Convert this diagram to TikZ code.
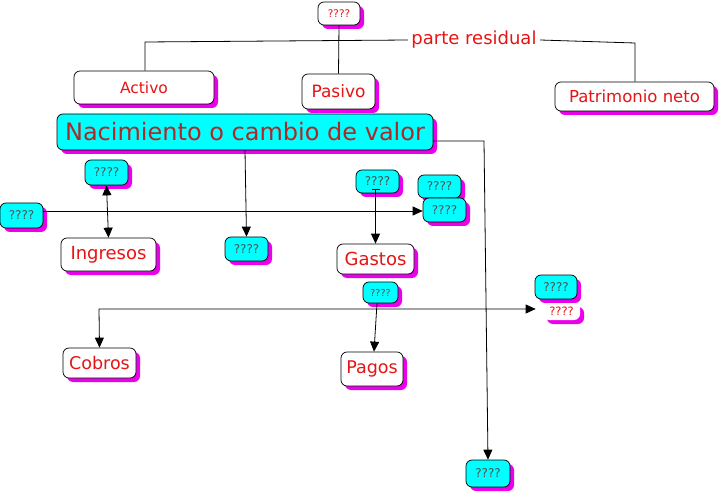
\documentclass[tikz,border=0pt]{standalone}
\usepackage{fontspec}
\setmainfont{DejaVu Sans}
\usetikzlibrary{shadows,arrows.meta}
\definecolor{tred}{RGB}{230,20,20}
\definecolor{dred}{RGB}{175,40,40}
\definecolor{qgray}{RGB}{80,80,80}
\definecolor{cy}{RGB}{0,255,255}
\definecolor{mag}{RGB}{235,0,235}
\tikzset{
  base/.style={draw=black, line width=0.7pt, rounded corners=6pt, inner sep=0pt,
    drop shadow={shadow xshift=4pt, shadow yshift=-4pt, fill=mag, opacity=1}},
  wbox/.style={base, fill=white, text=tred},
  cbox/.style={base, fill=cy, text=qgray, font=\fontsize{12}{14}\selectfont},
  conn/.style={draw=black, line width=0.8pt},
  tip/.style={-{Triangle[length=10pt,width=9pt]}}
}
\begin{document}
\begin{tikzpicture}[x=1pt,y=-1pt]
\useasboundingbox (0,0) rectangle (721,492);
% nodes
\node[wbox, minimum width=42, minimum height=23, font=\fontsize{10.5}{12}\selectfont] (q0) at (339,13.5) {????};
\node[text=tred, font=\fontsize{18}{21}\selectfont] (res) at (474,40) {parte residual};
\node[wbox, minimum width=140, minimum height=33, font=\fontsize{15.5}{18}\selectfont] (act) at (144,87.5) {Activo};
\node[wbox, minimum width=73, minimum height=35, font=\fontsize{17}{20}\selectfont] (pas) at (338.5,91.5) {Pasivo};
\node[wbox, minimum width=159, minimum height=29, font=\fontsize{16.5}{19}\selectfont] (pat) at (634.5,96.5) {Patrimonio neto};
\node[base, fill=cy, text=dred, minimum width=376, minimum height=36, font=\fontsize{24}{28}\selectfont] (nac) at (245,132) {Nacimiento o cambio de valor};
\node[cbox, minimum width=43, minimum height=25] (qa) at (106.5,172.5) {????};
\node[cbox, minimum width=43, minimum height=25] (ql) at (21.5,215.5) {????};
\node[wbox, minimum width=95, minimum height=33, font=\fontsize{18}{21}\selectfont] (ing) at (108.5,254.5) {Ingresos};
\node[cbox, minimum width=43, minimum height=24] (qm) at (246.5,249) {????};
\node[cbox, minimum width=43, minimum height=23] (qg) at (377.5,181.5) {????};
\node[cbox, minimum width=43, minimum height=23] (qr1) at (439.5,186.5) {????};
\node[cbox, minimum width=43, minimum height=24] (qr2) at (444.5,210) {????};
\node[wbox, minimum width=77, minimum height=30, font=\fontsize{18}{21}\selectfont] (gas) at (375.5,259) {Gastos};
\node[cbox, minimum width=35, minimum height=21, font=\fontsize{9.5}{11}\selectfont] (qs) at (380.5,292.5) {????};
\node[wbox, minimum width=62, minimum height=34, font=\fontsize{17.5}{20}\selectfont] (pag) at (372,369) {Pagos};
\node[wbox, minimum width=73, minimum height=30, font=\fontsize{17.5}{20}\selectfont] (cob) at (99.5,363) {Cobros};
\node[cbox, minimum width=42, minimum height=24] (qc) at (556,287) {????};
\node[wbox, draw=none, minimum width=37, minimum height=17, font=\fontsize{11.5}{13}\selectfont] (qw) at (561.5,311.5) {????};
\node[cbox, minimum width=44, minimum height=27] (qb) at (488,473.5) {????};
% connectors
\coordinate (a1) at (145,42);
\coordinate (p1) at (635,43);
\coordinate (n1) at (433,141);
\coordinate (n2) at (484,141);
\coordinate (c1) at (99,309);
\coordinate (l1) at (43,211);
\draw[conn] (q0.south) -- (pas.north);
\draw[conn] (act.north -| a1) -- (a1) -- (res.west);
\draw[conn] (res.east) -- (p1) -- (pat.north -| p1);
\draw[conn, tip] (n1) -- (n2) -- ([xshift=4pt]n2 |- qb.north);
\draw[conn, tip] (nac.south) -- (qm.north);
\draw[conn, {Triangle[length=10pt,width=9pt]}-{Triangle[length=10pt,width=9pt]}] (qa.south) -- (ing.north);
\draw[conn, tip] (l1) -- (l1 -| qr2.west);
\draw[conn, {Bar[width=8pt,length=1pt]}-{Triangle[length=10pt,width=9pt]}] ([yshift=4pt]qg.south -| gas.north) -- (gas.north);
\draw[conn, tip] ([xshift=-3.5pt]qs.south) -- ([xshift=2pt]pag.north);
\draw[conn, {Triangle[length=10pt,width=9pt]}-{Triangle[length=10pt,width=9pt]}] (cob.north) -- (c1) -- ([xshift=-7pt]c1 -| qw.west);
\end{tikzpicture}
\end{document}
